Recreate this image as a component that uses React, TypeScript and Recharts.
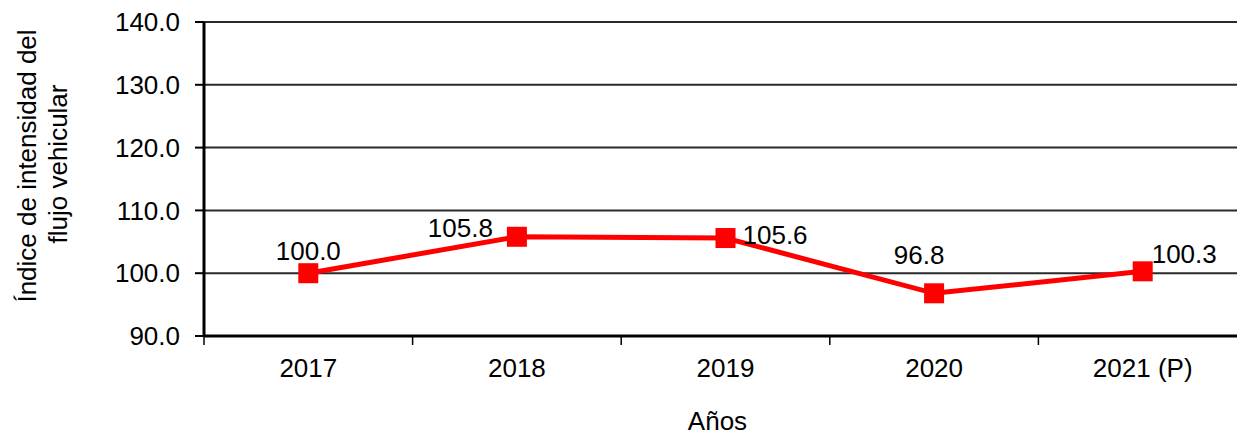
import React from "react";
import { LineChart, Line, XAxis, YAxis, CartesianGrid, LabelList, Label } from "recharts";

const years = ["2017", "2018", "2019", "2020", "2021 (P)"];
const indexValues = [100.0, 105.8, 105.6, 96.8, 100.3];
const yTicks = [90, 100, 110, 120, 130, 140];

// where each value label sits relative to its point (dx, dy to baseline, anchor)
const labelPlacement: Array<{ dx: number; dy: number; anchor: "start" | "middle" | "end" }> = [
  { dx: 0, dy: -13, anchor: "middle" },
  { dx: -24, dy: 0, anchor: "end" },
  { dx: 17, dy: 6, anchor: "start" },
  { dx: -15, dy: -29, anchor: "middle" },
  { dx: 9, dy: -8, anchor: "start" },
];

const FONT = "Arial, 'Liberation Sans', sans-serif";

const chartData = years.map((year, i) => ({ year, value: indexValues[i] }));

const SquareDot = (props: any) => {
  const { cx, cy } = props;
  if (cx == null || cy == null) return null;
  return <rect x={cx - 10} y={cy - 10} width={20} height={20} fill="#ff0000" />;
};

const YearTick = (props: any) => {
  const { x, y, payload, index, visibleTicksCount } = props;
  const half = payload.offset || 104.3;
  return (
    <g>
      <line x1={x - half} x2={x - half} y1={y} y2={y + 9} stroke="#000" strokeWidth={1.5} />
      {index === visibleTicksCount - 1 && (
        <line x1={x + half} x2={x + half} y1={y} y2={y + 9} stroke="#000" strokeWidth={1.5} />
      )}
      <text x={x} y={y + 41} textAnchor="middle" fontSize={26} fill="#000" fontFamily={FONT}>
        {payload.value}
      </text>
    </g>
  );
};

const ValueLabel = (props: any) => {
  const { x, y, value, index } = props;
  const p = labelPlacement[index] || { dx: 0, dy: -13, anchor: "middle" };
  return (
    <text x={x + p.dx} y={y + p.dy} textAnchor={p.anchor} fontSize={26} fill="#000" fontFamily={FONT}>
      {Number(value).toFixed(1)}
    </text>
  );
};

const YTitle = () => (
  <g fontFamily={FONT} fontSize={26} fill="#000">
    <text x={36} y={166} transform="rotate(-90, 36, 166)" textAnchor="middle">
      Índice de intensidad del
    </text>
    <text x={67} y={164} transform="rotate(-90, 67, 164)" textAnchor="middle">
      flujo vehicular
    </text>
  </g>
);

export default function App() {
  return (
    <div
      style={{
        position: "absolute",
        left: 0,
        top: 0,
        width: 1237,
        height: 436,
        overflow: "hidden",
        background: "#fff",
      }}
    >
      <LineChart width={1247} height={436} data={chartData} margin={{ top: 22, right: 0, bottom: 0, left: 0 }}>
        <CartesianGrid vertical={false} stroke="#2a2a2a" strokeWidth={2} />
        <XAxis
          dataKey="year"
          scale="band"
          height={100}
          axisLine={{ stroke: "#000", strokeWidth: 3 }}
          tickLine={false}
          tickSize={0}
          tickMargin={0}
          interval={0}
          tick={<YearTick />}
        >
          <Label
            content={(p: any) => {
              const vb = p.viewBox || {};
              return (
                <text
                  x={vb.x + vb.width / 2 - 8}
                  y={430}
                  textAnchor="middle"
                  fontSize={26}
                  fill="#000"
                  fontFamily={FONT}
                >
                  Años
                </text>
              );
            }}
          />
        </XAxis>
        <YAxis
          width={204}
          domain={[90, 140]}
          ticks={yTicks}
          interval={0}
          axisLine={{ stroke: "#000", strokeWidth: 3 }}
          tickLine={{ stroke: "#000", strokeWidth: 2 }}
          tickSize={9}
          tickMargin={15}
          tickFormatter={(v: number) => v.toFixed(1)}
          tick={{ fontSize: 26, fill: "#000", fontFamily: FONT }}
        >
          <Label content={() => <YTitle />} />
        </YAxis>
        <Line
          type="linear"
          dataKey="value"
          stroke="#ff0000"
          strokeWidth={5}
          dot={<SquareDot />}
          activeDot={false}
          isAnimationActive={false}
        >
          <LabelList dataKey="value" content={<ValueLabel />} />
        </Line>
      </LineChart>
    </div>
  );
}
